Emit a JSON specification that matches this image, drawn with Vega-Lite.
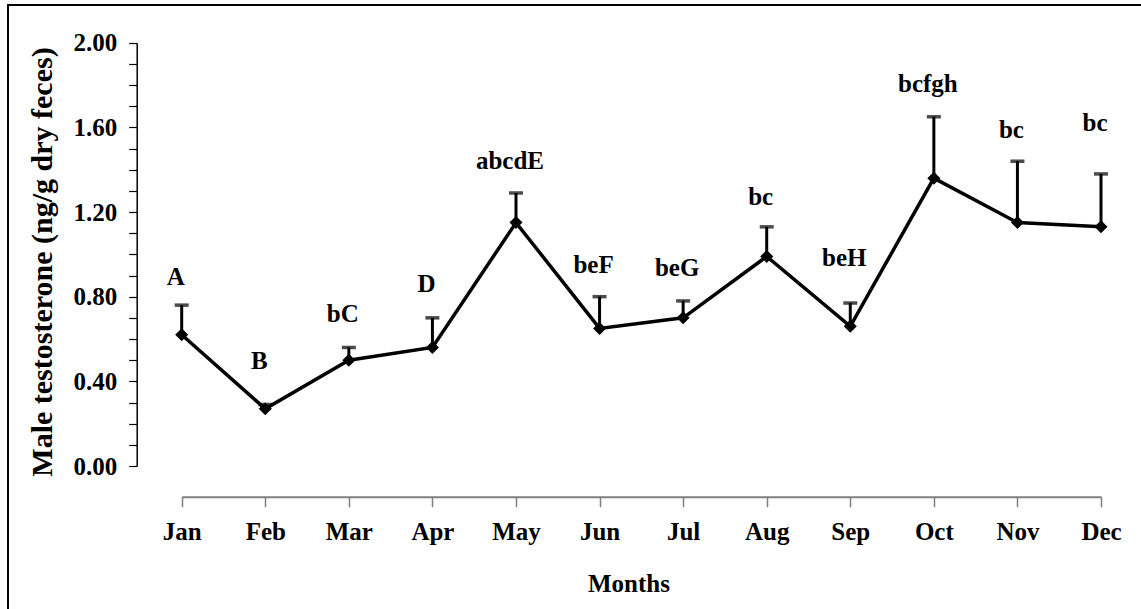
{
  "$schema": "https://vega.github.io/schema/vega-lite/v6.json",
  "autosize": "none",
  "width": 1133,
  "height": 604,
  "padding": {"left": 8, "top": 5, "right": 0, "bottom": 0},
  "background": "#ffffff",
  "config": {
    "view": {"stroke": "#000000", "strokeWidth": 2, "strokeDash": [1133, 1737, 604]},
    "axis": {
      "grid": false,
      "labelFont": "Liberation Serif",
      "titleFont": "Liberation Serif",
      "labelFontWeight": "bold",
      "titleFontWeight": "bold",
      "labelColor": "#000000",
      "titleColor": "#000000"
    }
  },
  "data": {
    "values": [
      {"month": "Jan", "value": 0.62, "upper": 0.76, "label": "A", "labelY": 0.894},
      {"month": "Feb", "value": 0.27, "upper": 0.29, "label": "B", "labelY": 0.497},
      {"month": "Mar", "value": 0.50, "upper": 0.56, "label": "bC", "labelY": 0.718},
      {"month": "Apr", "value": 0.56, "upper": 0.70, "label": "D", "labelY": 0.86},
      {"month": "May", "value": 1.15, "upper": 1.29, "label": "abcdE", "labelY": 1.442},
      {"month": "Jun", "value": 0.65, "upper": 0.80, "label": "beF", "labelY": 0.949},
      {"month": "Jul", "value": 0.70, "upper": 0.78, "label": "beG", "labelY": 0.937},
      {"month": "Aug", "value": 0.99, "upper": 1.13, "label": "bc", "labelY": 1.269},
      {"month": "Sep", "value": 0.66, "upper": 0.77, "label": "beH", "labelY": 0.981},
      {"month": "Oct", "value": 1.36, "upper": 1.65, "label": "bcfgh", "labelY": 1.804},
      {"month": "Nov", "value": 1.15, "upper": 1.44, "label": "bc", "labelY": 1.587},
      {"month": "Dec", "value": 1.13, "upper": 1.38, "label": "bc", "labelY": 1.622}
    ]
  },
  "encoding": {
    "x": {
      "field": "month",
      "type": "ordinal",
      "sort": ["Jan", "Feb", "Mar", "Apr", "May", "Jun", "Jul", "Aug", "Sep", "Oct", "Nov", "Dec"],
      "scale": {"type": "point", "range": [173.7, 1093], "padding": 0},
      "axis": {
        "orient": "bottom",
        "offset": -112.3,
        "domainColor": "#7f7f7f",
        "domainWidth": 2,
        "tickColor": "#7f7f7f",
        "tickWidth": 1.5,
        "tickSize": 10,
        "labelPadding": 12.8,
        "labelFontSize": 25,
        "labelAngle": 0,
        "title": "Months",
        "titleFontSize": 25,
        "titleX": 620.5,
        "titleY": 95,
        "titleAlign": "center",
        "titleBaseline": "alphabetic"
      }
    },
    "y": {
      "field": "value",
      "type": "quantitative",
      "scale": {"domain": [0, 2], "range": [461, 37.7], "nice": false, "zero": false},
      "axis": {
        "orient": "left",
        "offset": -128.7,
        "values": [0, 0.1, 0.2, 0.3, 0.4, 0.5, 0.6, 0.7, 0.8, 0.9, 1, 1.1, 1.2, 1.3, 1.4, 1.5, 1.6, 1.7, 1.8, 1.9, 2],
        "labelExpr": "round(datum.value * 10) % 4 === 0 ? format(datum.value, '.2f') : ''",
        "domainColor": "#000000",
        "domainWidth": 1.5,
        "tickColor": "#000000",
        "tickWidth": 1.2,
        "tickSize": 8,
        "labelPadding": 12,
        "labelFontSize": 25,
        "title": "Male testosterone (ng/g dry feces)",
        "titleFontSize": 30,
        "titleAngle": -90,
        "titleX": -85.7,
        "titleY": 256.5,
        "titleAlign": "center",
        "titleBaseline": "alphabetic"
      }
    }
  },
  "layer": [
    {
      "mark": {"type": "rule", "color": "#000000", "strokeWidth": 3},
      "encoding": {
        "y2": {"field": "upper"}
      }
    },
    {
      "mark": {"type": "tick", "color": "#000000", "size": 14, "thickness": 3.5},
      "encoding": {
        "y": {"field": "upper", "type": "quantitative", "title": "Male testosterone (ng/g dry feces)"}
      }
    },
    {
      "mark": {"type": "line", "color": "#000000", "strokeWidth": 3.5}
    },
    {
      "mark": {"type": "point", "shape": "diamond", "filled": true, "color": "#000000", "size": 170, "opacity": 1}
    },
    {
      "mark": {
        "type": "text",
        "font": "Liberation Serif",
        "fontWeight": "bold",
        "fontSize": 25,
        "color": "#000000",
        "align": "center",
        "baseline": "middle",
        "dx": -6
      },
      "encoding": {
        "y": {"field": "labelY", "type": "quantitative", "title": "Male testosterone (ng/g dry feces)"},
        "text": {"field": "label"}
      }
    }
  ]
}
